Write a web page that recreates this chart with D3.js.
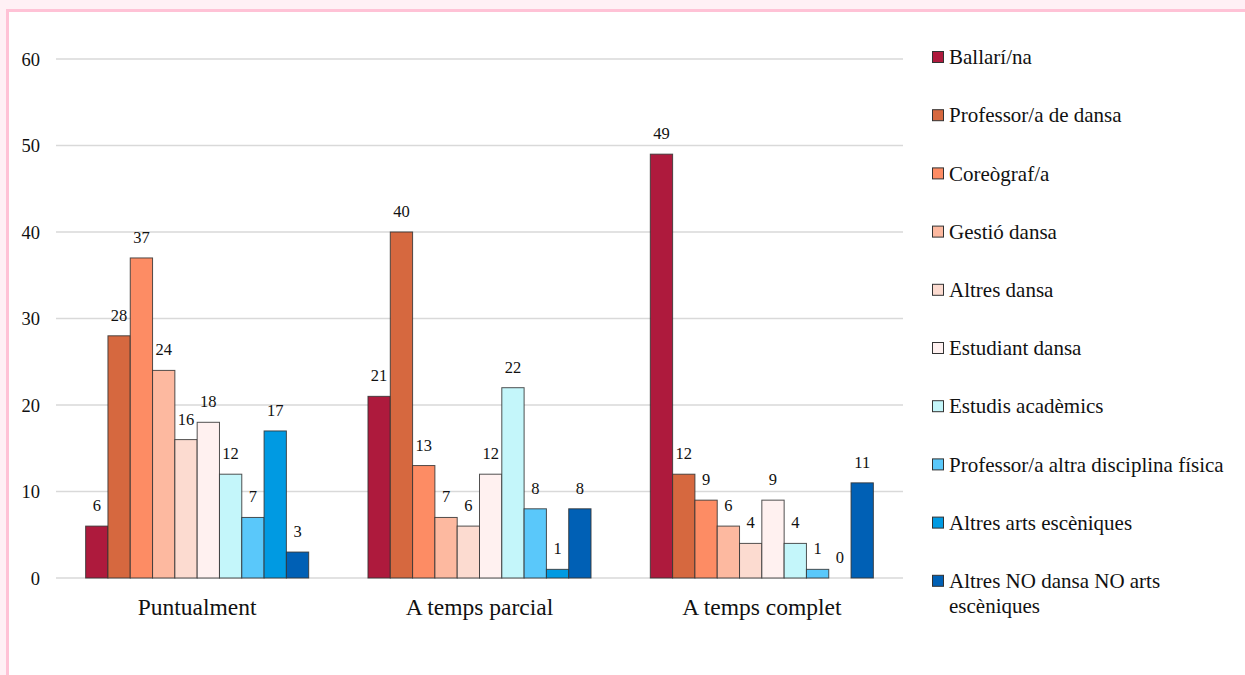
<!DOCTYPE html>
<html><head><meta charset="utf-8">
<script src="https://cdn.jsdelivr.net/npm/d3@7"></script>
<style>
html,body{margin:0;padding:0;background:#fff0f5;}
svg{display:block;}
</style></head>
<body>
<script>
const categories = ["Puntualment", "A temps parcial", "A temps complet"];
const seriesNames = ["Ballarí/na", "Professor/a de dansa", "Coreògraf/a", "Gestió dansa", "Altres dansa",
  "Estudiant dansa", "Estudis acadèmics", "Professor/a altra disciplina física", "Altres arts escèniques",
  "Altres NO dansa NO arts escèniques"];
const seriesColors = ["#ae1a3d", "#d6683f", "#fd8c64", "#fdb9a0", "#fcdbd0", "#fff1f0", "#c4f6fa", "#5ac8fa", "#009ae2", "#0060b5"];
const valuesPuntualment = [6, 28, 37, 24, 16, 18, 12, 7, 17, 3];
const valuesParcial = [21, 40, 13, 7, 6, 12, 22, 8, 1, 8];
const valuesComplet = [49, 12, 9, 6, 4, 9, 4, 1, 0, 11];
const yTicks = [0, 10, 20, 30, 40, 50, 60];
const values = [valuesPuntualment, valuesParcial, valuesComplet];

const FONT = "'Liberation Serif', 'Times New Roman', serif";
const W = 1245, H = 675;
const svg = d3.select("body").append("svg").attr("width", W).attr("height", H);
// frame
svg.append("rect").attr("x", 0).attr("y", 0).attr("width", W).attr("height", H).attr("fill", "#fff0f5");
svg.append("rect").attr("x", 6).attr("y", 9).attr("width", W - 6).attr("height", H - 9).attr("fill", "#ffc2d6");
svg.append("rect").attr("x", 9).attr("y", 12).attr("width", W - 9).attr("height", H - 12).attr("fill", "#ffffff");

const y = d3.scaleLinear().domain([0, 60]).range([578, 59]);
const x0 = d3.scaleBand().domain(categories).range([56, 903]).paddingInner(0.21).paddingOuter(0.105);
const x1 = d3.scaleBand().domain(seriesNames).range([0, x0.bandwidth()]);

// gridlines
svg.append("g").selectAll("line").data(yTicks).join("line")
  .attr("x1", 56).attr("x2", 903)
  .attr("y1", d => y(d)).attr("y2", d => y(d))
  .attr("stroke", "#d9d9d9").attr("stroke-width", 1.5);

const yAxis = d3.axisLeft(y).tickValues(yTicks).tickSize(0).tickPadding(0);
const ga = svg.append("g").attr("transform", "translate(40,0)").call(yAxis);
ga.select(".domain").remove();
ga.selectAll("text").style("font-family", FONT).style("font-size", "18.5px").attr("fill", "#111").attr("dy", "0.34em");

const xAxis = d3.axisBottom(x0).tickSize(0).tickPadding(0);
const gx = svg.append("g").attr("transform", "translate(0,615)").call(xAxis);
gx.select(".domain").remove();
gx.selectAll("text").style("font-family", FONT).style("font-size", "23.5px").attr("fill", "#111").attr("dy", "0");

const groups = svg.append("g").selectAll("g").data(categories).join("g")
  .attr("transform", d => `translate(${x0(d)},0)`);

groups.selectAll("rect").data((c, i) => values[i].map((v, j) => ({v, s: seriesNames[j], c: seriesColors[j]})))
  .join("rect")
  .attr("x", d => x1(d.s)).attr("width", x1.bandwidth())
  .attr("y", d => y(d.v)).attr("height", d => y(0) - y(d.v))
  .attr("fill", d => d.c)
  .attr("stroke", d => d.v > 0 ? "#333" : "none").attr("stroke-width", 1).attr("stroke-opacity", 0.85);

groups.selectAll("text.val").data((c, i) => values[i].map((v, j) => ({v, s: seriesNames[j]})))
  .join("text").attr("class", "val")
  .attr("x", d => x1(d.s) + x1.bandwidth() / 2)
  .attr("y", d => y(d.v) - 15)
  .attr("text-anchor", "middle")
  .style("font-family", FONT).style("font-size", "16.5px").attr("fill", "#111")
  .text(d => d.v);

// legend
const legendTop = 57, legendStep = 58.2;
const lg = svg.append("g").selectAll("g").data(seriesNames).join("g")
  .attr("transform", (d, i) => `translate(932,${legendTop + i * legendStep})`);
lg.append("rect").attr("x", 0.5).attr("y", -5.5).attr("width", 11).attr("height", 11)
  .attr("fill", (d, i) => seriesColors[i]).attr("stroke", "#333").attr("stroke-width", 1);
lg.each(function(d) {
  const g = d3.select(this);
  const lines = d === "Altres NO dansa NO arts escèniques" ? ["Altres NO dansa NO arts", "escèniques"] : [d];
  lines.forEach((l, k) => {
    g.append("text").attr("x", 17).attr("y", k * 25).attr("dy", "0.34em")
      .style("font-family", FONT).style("font-size", "21px").attr("fill", "#111").text(l);
  });
});
</script>
</body></html>
